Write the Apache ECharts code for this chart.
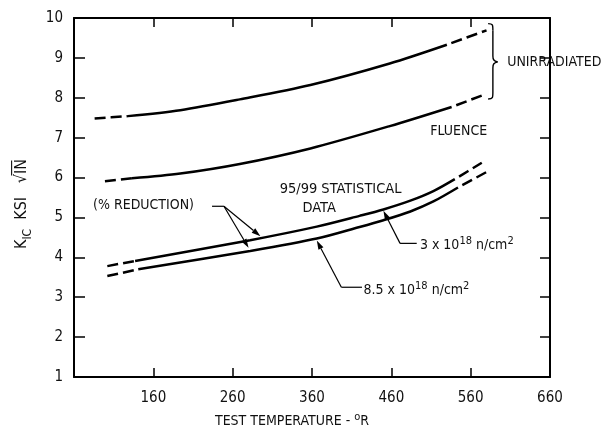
<!DOCTYPE html>
<html>
<head>
<meta charset="utf-8">
<script src="https://cdn.jsdelivr.net/npm/echarts@6/dist/echarts.min.js"></script>
<style>
html,body{margin:0;padding:0;background:#fff;}
#c{width:614px;height:430px;}
</style>
</head>
<body>
<div id="c"></div>
<script>
// ---- data (test temperature °R, K_IC ksi·√in) ----
const xTickValues = [160, 260, 360, 460, 560, 660];
const yTickValues = [1, 2, 3, 4, 5, 6, 7, 8, 9, 10];

const unirrUpperStart = [[86, 7.48], [128, 7.54]];
const unirrUpperSolid = [[128, 7.54], [194, 7.69], [269, 7.96], [358, 8.32], [458, 8.86], [530, 9.33]];
const unirrUpperEnd   = [[530, 9.33], [580, 9.69]];

const unirrLowerStart = [[99, 5.91], [133, 5.98]];
const unirrLowerSolid = [[133, 5.98], [194, 6.10], [269, 6.34], [358, 6.73], [458, 7.29], [536, 7.77]];
const unirrLowerEnd   = [[536, 7.77], [576, 8.07]];

const fluence3Start = [[102, 3.78], [137, 3.91]];
const fluence3Solid = [[137, 3.91], [282, 4.43], [366, 4.77], [420, 5.04], [450, 5.20], [484, 5.42], [513, 5.66], [540, 5.96]];
const fluence3End   = [[540, 5.96], [574, 6.37]];

const fluence85Start = [[102, 3.53], [141, 3.70]];
const fluence85Solid = [[141, 3.70], [282, 4.16], [366, 4.47], [420, 4.76], [450, 4.93], [484, 5.15], [513, 5.40], [544, 5.75]];
const fluence85End   = [[544, 5.75], [581, 6.15]];

const FONT = "'Liberation Sans Narrow', 'DejaVu Sans Condensed', 'Roboto Condensed', sans-serif";

const chart = echarts.init(document.getElementById('c'), null, {renderer: 'canvas'});

function solid(data) {
  return {type: 'line', data: data, smooth: 0.3, symbol: 'none', silent: true,
          lineStyle: {color: '#000', width: 2.5}};
}
function dashed(data, offset) {
  return {type: 'line', data: data, smooth: 0.3, symbol: 'none', silent: true,
          lineStyle: {color: '#000', width: 2.5, type: [11, 5], dashOffset: offset || 0}};
}

const axisLineStyle = {lineStyle: {color: '#000', width: 2}};

const option = {
  animation: false,
  backgroundColor: '#fff',
  grid: {left: 74, top: 18, right: 64, bottom: 53, containLabel: false},
  xAxis: [
    {type: 'value', min: 60, max: 660, interval: 100, position: 'bottom',
     axisLine: axisLineStyle,
     axisTick: {inside: true, length: 9, lineStyle: {color: '#000', width: 1.5}},
     splitLine: {show: false},
     axisLabel: {color: '#111', fontFamily: FONT, fontSize: 15, margin: 14,
                 formatter: v => (xTickValues.indexOf(v) >= 0 ? String(v) : '')}},
    {type: 'value', min: 60, max: 660, interval: 100, position: 'top',
     axisLine: axisLineStyle,
     axisTick: {inside: true, length: 9, lineStyle: {color: '#000', width: 1.5}},
     splitLine: {show: false}, axisLabel: {show: false}}
  ],
  yAxis: [
    {type: 'value', min: 1, max: 10, interval: 1, position: 'left',
     axisLine: axisLineStyle,
     axisTick: {inside: true, length: 11, lineStyle: {color: '#000', width: 1.5}},
     splitLine: {show: false},
     axisLabel: {color: '#111', fontFamily: FONT, fontSize: 15, margin: 11,
                 formatter: v => (yTickValues.indexOf(v) >= 0 ? String(v) : '')}},
    {type: 'value', min: 1, max: 10, interval: 1, position: 'right',
     axisLine: axisLineStyle,
     axisTick: {inside: true, length: 10, lineStyle: {color: '#000', width: 1.5}},
     splitLine: {show: false}, axisLabel: {show: false}}
  ],
  series: [
    dashed(unirrUpperStart), solid(unirrUpperSolid), dashed(unirrUpperEnd, 11),
    dashed(unirrLowerStart), solid(unirrLowerSolid), dashed(unirrLowerEnd, 11),
    dashed(fluence3Start), solid(fluence3Solid), dashed(fluence3End, 11),
    dashed(fluence85Start), solid(fluence85Solid), dashed(fluence85End, 11)
  ]
};
chart.setOption(option);

// ---- annotations, anchored in data space ----
function px(p) { return chart.convertToPixel({xAxisIndex: 0, yAxisIndex: 0}, p); }
function seg(p1, p2, w) {
  const a = px(p1), b = px(p2);
  return {type: 'line', silent: true, shape: {x1: a[0], y1: a[1], x2: b[0], y2: b[1]},
          style: {stroke: '#000', lineWidth: w || 1.2}};
}
function arrow(from, to) {
  const a = px(from), b = px(to);
  const dx = b[0] - a[0], dy = b[1] - a[1];
  const L = Math.hypot(dx, dy), ux = dx / L, uy = dy / L;
  const hl = 9, hw = 2.8;
  const base = [b[0] - ux * hl, b[1] - uy * hl];
  return [
    {type: 'line', silent: true, shape: {x1: a[0], y1: a[1], x2: base[0], y2: base[1]},
     style: {stroke: '#000', lineWidth: 1.2}},
    {type: 'polygon', silent: true,
     shape: {points: [b, [base[0] - uy * hw, base[1] + ux * hw], [base[0] + uy * hw, base[1] - ux * hw]]},
     style: {fill: '#000'}}
  ];
}
function label(p, text, align, size, rich) {
  const a = px(p);
  const st = {text: text, fill: '#111', fontFamily: FONT, fontSize: size || 13,
              align: align || 'center', verticalAlign: 'middle'};
  if (rich) st.rich = rich;
  return {type: 'text', silent: true, x: a[0], y: a[1], style: st};
}
function bez(p1, c1, c2, p2) {
  return {type: 'bezierCurve', silent: true,
          shape: {x1: p1[0], y1: p1[1], cpx1: c1[0], cpy1: c1[1], cpx2: c2[0], cpy2: c2[1], x2: p2[0], y2: p2[1]},
          style: {stroke: '#000', lineWidth: 1.4, fill: null}};
}
function pline(p1, p2) {
  return {type: 'line', silent: true, shape: {x1: p1[0], y1: p1[1], x2: p2[0], y2: p2[1]},
          style: {stroke: '#000', lineWidth: 1.4}};
}

const supRich = {
  sup: {fontFamily: FONT, fontSize: 11, lineHeight: 17, verticalAlign: 'top', fill: '#111'},
  n: {fontFamily: FONT, fontSize: 14, lineHeight: 17, verticalAlign: 'bottom', fill: '#111'}
};

const g = [];
// brace for the unirradiated pair
const bt = px([582, 9.86]), bb = px([582, 7.97]), bv = px([588, 8.9]), bm = px([594, 8.9]);
const X = bv[0], T = bt[1], B = bb[1], M = bm[1];
g.push(bez([bt[0], T], [X, T], [X, T + 1], [X, T + 7]));
g.push(pline([X, T + 7], [X, M - 6]));
g.push(bez([X, M - 6], [X, M - 2], [X + 1, M - 1], [bm[0], M]));
g.push(bez([bm[0], M], [X + 1, M + 1], [X, M + 2], [X, M + 6]));
g.push(pline([X, M + 6], [X, B - 7]));
g.push(bez([X, B - 7], [X, B - 1], [X, B], [bb[0], B]));

g.push(label([606, 8.89], 'UNIRRADIATED', 'left', 14));
g.push(label([545, 7.15], 'FLUENCE', 'center', 14));
g.push(label([396, 5.71], '95/99 STATISTICAL', 'center', 14.5));
g.push(label([369, 5.24], 'DATA', 'center', 14.5));
g.push(label([84, 5.31], '(% REDUCTION)', 'left', 14));

// (% REDUCTION) leader and arrows
g.push(seg([234, 5.28], [249, 5.28]));
g.push(...arrow([249, 5.28], [295, 4.53]));
g.push(...arrow([249, 5.28], [280, 4.24]));

// 3 x 10^18 arrow
g.push(seg([471, 4.35], [492, 4.35]));
g.push(...arrow([471, 4.35], [450, 5.17]));
g.push(label([496, 4.34], '{n|3 x 10}{sup|18}{n| n/cm}{sup|2}', 'left', 14, supRich));

// 8.5 x 10^18 arrow
g.push(seg([397, 3.25], [423, 3.25]));
g.push(...arrow([397, 3.25], [366, 4.42]));
g.push(label([425, 3.21], '{n|8.5 x 10}{sup|18}{n| n/cm}{sup|2}', 'left', 14, supRich));

// axis titles
g.push({type: 'text', silent: true, x: 292, y: 420,
  style: {text: '{n|TEST TEMPERATURE - }{sup|o}{n|R}', align: 'center', verticalAlign: 'middle',
          fontFamily: FONT, fontSize: 14, fill: '#111', rich: supRich}});
g.push({type: 'text', silent: true, x: 22, y: 204, rotation: Math.PI / 2,
  style: {text: '{k|K}{sub|IC}{k|  KSI   √I\u0305N\u0305}', align: 'center', verticalAlign: 'middle',
          fontFamily: FONT, fontSize: 16, fill: '#111',
          rich: {
            k: {fontFamily: FONT, fontSize: 16, lineHeight: 24, verticalAlign: 'middle', fill: '#111'},
            sub: {fontFamily: FONT, fontSize: 12, lineHeight: 12, verticalAlign: 'bottom', fill: '#111'}
          }}});

chart.setOption({graphic: {elements: g}});
</script>
</body>
</html>
